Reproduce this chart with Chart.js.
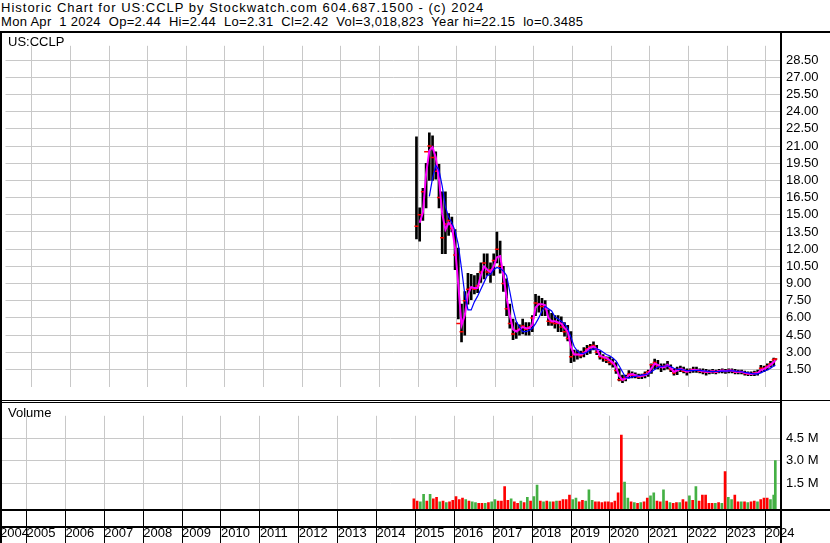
<!DOCTYPE html>
<html>
<head>
<meta charset="utf-8">
<script src="https://cdn.jsdelivr.net/npm/chart.js@4.4.1/dist/chart.umd.min.js"></script>
<style>
body { margin: 0; background: #fff; width: 830px; height: 543px; overflow: hidden; position: relative;
       font: 13px "Liberation Sans", Arial, sans-serif; color: #000; }
.t { position: absolute; white-space: pre; line-height: 14px; }
.ln { position: absolute; background: #000; }
canvas { position: absolute; left: 0; }
</style>
</head>
<body>
<div class="t" style="left:1px;top:1px;letter-spacing:1px">Historic Chart for US:CCLP by Stockwatch.com 604.687.1500 - (c) 2024</div>
<div class="t" style="left:1px;top:15px;letter-spacing:0.3px">Mon Apr  1 2024  Op=2.44  Hi=2.44  Lo=2.31  Cl=2.42  Vol=3,018,823  Year hi=22.15  lo=0.3485</div>

<canvas id="price" width="830" height="367" style="top:33px"></canvas>
<canvas id="vol" width="830" height="140" style="top:403px"></canvas>

<div class="t" style="left:8px;top:35px">US:CCLP</div>
<div class="t" style="left:8px;top:406px">Volume</div>

<div class="ln" style="left:0;top:31px;width:830px;height:2px"></div>
<div class="ln" style="left:0;top:31px;width:2px;height:512px"></div>
<div class="ln" style="left:780px;top:31px;width:2px;height:512px"></div>
<div class="ln" style="left:0;top:400px;width:830px;height:1px"></div>
<div class="ln" style="left:0;top:402px;width:781px;height:1px"></div>
<div class="ln" style="left:0;top:509px;width:830px;height:2px"></div>
<div class="ln" style="left:0;top:526px;width:781px;height:2px"></div>

<script>
// monthly bars (last one is the single day Apr 1 2024)
const months = [
  '2014-12',
  '2015-01','2015-02','2015-03','2015-04','2015-05','2015-06','2015-07','2015-08','2015-09','2015-10','2015-11','2015-12',
  '2016-01','2016-02','2016-03','2016-04','2016-05','2016-06','2016-07','2016-08','2016-09','2016-10','2016-11','2016-12',
  '2017-01','2017-02','2017-03','2017-04','2017-05','2017-06','2017-07','2017-08','2017-09','2017-10','2017-11','2017-12',
  '2018-01','2018-02','2018-03','2018-04','2018-05','2018-06','2018-07','2018-08','2018-09','2018-10','2018-11','2018-12',
  '2019-01','2019-02','2019-03','2019-04','2019-05','2019-06','2019-07','2019-08','2019-09','2019-10','2019-11','2019-12',
  '2020-01','2020-02','2020-03','2020-04','2020-05','2020-06','2020-07','2020-08','2020-09','2020-10','2020-11','2020-12',
  '2021-01','2021-02','2021-03','2021-04','2021-05','2021-06','2021-07','2021-08','2021-09','2021-10','2021-11','2021-12',
  '2022-01','2022-02','2022-03','2022-04','2022-05','2022-06','2022-07','2022-08','2022-09','2022-10','2022-11','2022-12',
  '2023-01','2023-02','2023-03','2023-04','2023-05','2023-06','2023-07','2023-08','2023-09','2023-10','2023-11','2023-12',
  '2024-01','2024-02','2024-03','2024-04-01'
];

const hi = [
  21.8,
  15.6,17.3,19.5,22.15,21.9,20.5,19.4,17.0,17.0,15.1,14.8,13.7,
  12.1,7.2,8.3,9.9,9.8,9.7,9.9,10.8,11.6,11.6,10.8,11.6,
  13.5,12.7,10.5,9.4,7.2,5.9,5.6,5.4,5.9,5.6,5.6,6.2,
  8.05,7.9,7.7,7.5,6.7,6.4,6.2,6.2,6.1,5.6,5.35,4.8,
  3.2,3.2,3.1,3.4,3.6,3.7,3.9,3.6,3.1,2.8,2.6,2.6,
  2.4,2.1,1.55,1.0,1.0,1.4,1.3,1.2,1.1,1.1,1.3,1.45,
  2.0,2.4,2.3,2.0,2.0,2.2,1.9,1.55,1.7,1.8,1.7,1.55,
  1.55,1.7,1.7,1.55,1.55,1.5,1.45,1.5,1.45,1.5,1.55,1.5,
  1.55,1.55,1.5,1.45,1.45,1.35,1.3,1.3,1.35,1.45,1.85,1.8,
  2.0,2.2,2.5,2.44
];
const lo = [
  12.9,
  12.7,14.5,15.6,18.0,18.0,18.1,15.6,11.6,11.6,13.2,13.5,10.2,
  5.9,3.9,4.5,7.2,7.6,8.1,8.2,9.1,9.4,9.7,9.1,9.7,
  10.8,9.9,8.3,6.2,5.1,4.1,4.2,4.5,4.6,4.5,4.5,4.8,
  6.2,6.5,6.2,6.2,5.35,5.35,5.1,4.8,4.8,4.4,4.0,2.1,
  2.2,2.4,2.5,2.6,2.8,2.9,3.2,2.8,2.4,2.2,2.1,1.9,
  1.7,1.15,0.5,0.35,0.5,0.75,0.75,0.75,0.7,0.7,0.75,0.9,
  1.15,1.55,1.55,1.3,1.45,1.55,1.3,1.0,1.05,1.3,1.2,1.0,
  1.2,1.25,1.25,1.2,1.1,1.0,1.1,1.15,1.1,1.2,1.2,1.15,
  1.2,1.2,1.1,1.1,1.1,1.0,0.95,0.95,0.95,1.0,1.25,1.3,
  1.45,1.7,1.8,2.31
];
const closes = [
  14.0,
  15.0,17.0,20.5,21.0,20.0,18.8,16.5,13.0,14.2,14.5,13.8,11.5,
  5.5,4.8,7.5,8.5,8.6,8.5,8.8,10.0,10.8,10.0,10.2,11.0,
  12.0,10.5,9.0,6.8,5.5,4.6,4.9,5.0,5.3,5.0,5.2,6.0,
  7.3,7.2,7.0,6.8,5.7,5.6,5.5,5.5,5.2,4.8,4.2,2.6,
  2.8,2.8,2.7,3.0,3.3,3.5,3.6,3.0,2.6,2.5,2.3,2.1,
  2.0,1.4,0.6,0.6,0.8,1.1,1.0,0.95,0.85,0.9,1.1,1.3,
  1.9,2.1,1.8,1.7,1.8,1.8,1.5,1.2,1.5,1.5,1.35,1.3,
  1.4,1.5,1.45,1.35,1.3,1.25,1.3,1.35,1.25,1.35,1.4,1.35,
  1.4,1.35,1.25,1.3,1.25,1.15,1.1,1.1,1.2,1.2,1.6,1.6,
  1.8,2.0,2.35,2.42
];
// short moving average (magenta)
const maShort = [
  null,
  14.3,15.2,18.6,20.6,20.9,20.0,18.1,15.1,13.7,14.3,14.0,12.1,
  8.9,5.35,6.2,8.05,8.7,8.6,8.6,9.7,10.5,10.2,10.0,10.5,
  11.3,11.4,9.7,7.8,6.2,5.0,4.8,5.0,5.2,5.1,5.1,5.4,
  6.9,7.2,7.2,7.1,6.0,5.7,5.7,5.6,5.5,5.1,4.8,3.45,
  2.8,2.8,2.8,2.9,3.2,3.4,3.5,3.3,2.7,2.6,2.5,2.3,
  2.1,1.7,0.9,0.6,0.7,1.0,1.1,1.0,0.9,0.95,1.0,1.15,
  1.6,2.0,1.9,1.7,1.7,1.9,1.6,1.3,1.4,1.55,1.45,1.3,
  1.4,1.45,1.45,1.4,1.35,1.3,1.3,1.35,1.3,1.35,1.4,1.35,
  1.4,1.4,1.3,1.3,1.3,1.2,1.15,1.1,1.15,1.2,1.45,1.55,
  1.7,1.9,2.15,2.3
];
// long moving average (blue)
const maLong = [
  null,
  null,null,null,16.6,18.2,19.3,18.9,17.5,15.7,14.8,14.3,13.6,
  12.4,10.3,8.1,6.7,6.7,7.4,7.9,8.5,9.1,9.7,9.8,10.2,
  10.4,10.3,10.1,9.7,8.3,6.8,5.7,5.2,4.8,4.8,4.9,5.1,
  5.5,6.0,6.6,7.0,6.8,6.6,6.1,5.9,5.7,5.5,5.1,4.3,
  3.5,3.1,2.9,2.9,3.0,3.2,3.3,3.3,3.2,3.0,2.8,2.7,
  2.5,2.25,1.8,1.3,0.8,0.75,0.85,0.9,0.95,1.0,1.05,1.1,
  1.3,1.5,1.7,1.75,1.8,1.8,1.75,1.6,1.5,1.5,1.45,1.4,
  1.4,1.4,1.42,1.42,1.38,1.35,1.32,1.32,1.32,1.33,1.35,1.35,
  1.37,1.38,1.35,1.32,1.3,1.25,1.2,1.15,1.12,1.12,1.2,1.35,
  1.45,1.6,1.8,1.85
];
// volume in millions, direction 1 = up (green), -1 = down (red)
const volume = [
  0.5,
  0.35,0.3,0.8,0.35,0.8,0.5,0.6,0.3,0.35,0.25,0.3,0.4,
  0.65,0.45,0.55,0.45,0.35,0.3,0.25,0.2,0.2,0.2,0.25,0.3,
  0.45,0.35,0.35,1.3,0.4,0.5,0.3,0.2,0.35,0.25,0.6,0.35,
  0.65,1.4,0.35,0.3,0.35,0.3,0.3,0.35,0.35,0.45,0.45,0.75,
  0.45,0.55,0.3,0.4,0.35,1.1,0.4,0.3,0.3,0.25,0.3,0.3,
  0.25,0.35,0.9,4.7,1.6,0.55,0.3,0.25,0.2,0.25,0.3,0.55,
  0.7,0.9,0.35,0.3,1.1,0.35,0.25,0.2,0.25,0.25,0.45,0.3,
  0.7,0.4,1.3,0.35,0.75,0.75,0.2,0.2,0.2,0.25,0.2,2.3,
  0.6,0.45,0.75,0.3,0.3,0.3,0.25,0.3,0.35,0.3,0.45,0.55,
  0.55,0.45,0.75,3.02
];
const volDir = [
  -1,
  -1,1,1,-1,1,-1,-1,1,-1,1,-1,-1,
  -1,-1,-1,1,-1,1,1,-1,-1,1,-1,1,
  1,-1,-1,-1,-1,1,-1,-1,1,-1,1,-1,
  1,1,-1,1,-1,1,-1,1,-1,-1,-1,-1,
  1,1,-1,-1,1,1,1,-1,-1,-1,-1,-1,
  -1,-1,-1,-1,1,1,-1,1,-1,1,-1,-1,
  1,1,-1,-1,1,-1,1,-1,-1,1,-1,-1,
  1,-1,1,-1,-1,-1,-1,-1,1,-1,1,-1,
  1,1,-1,-1,1,-1,1,-1,-1,1,-1,-1,
  -1,1,1,1
];

const priceTicks = [1.5,3,4.5,6,7.5,9,10.5,12,13.5,15,16.5,18,19.5,21,22.5,24,25.5,27,28.5];
const volTicks = [1.5,3,4.5];
const yearLabels = ['2004','2005','2006','2007','2008','2009','2010','2011','2012','2013','2014',
                    '2015','2016','2017','2018','2019','2020','2021','2022','2023','2024'];

const X_MIN = 2004.319, X_MAX = 2024.396;
const GRID = '#c8c8c8';

function toYear(s) {
  const p = s.split('-').map(Number);
  if (p.length === 3) return p[0] + (p[1] - 1) / 12 + (p[2] - 1) / 365;
  return p[0] + (p[1] - 0.5) / 12;
}
const tx = months.map(toYear);
const pts = arr => arr.map((v, i) => ({x: tx[i], y: v}));

Chart.defaults.font.family = '"Liberation Sans", Arial, sans-serif';
Chart.defaults.font.size = 13;
Chart.defaults.color = '#000';

const base = {
  responsive: false,
  animation: false,
  events: [],
  layout: {padding: 0},
  plugins: {legend: {display: false}, tooltip: {enabled: false}}
};

new Chart(document.getElementById('price'), {
  type: 'bar',
  data: {
    datasets: [
      {type: 'line', data: pts(maLong), borderColor: '#0000ff', borderWidth: 1.2, pointRadius: 0, order: 1},
      {type: 'line', data: pts(maShort), borderColor: '#ff00ff', borderWidth: 2, pointRadius: 0, order: 2},
      {type: 'line', data: pts(closes), showLine: false, pointStyle: 'line', pointRadius: 2,
       borderColor: '#ff0000', pointBorderWidth: 1.5, order: 3},
      {type: 'bar', data: months.map((m, i) => ({x: tx[i], y: [lo[i], hi[i]]})),
       backgroundColor: '#000', barThickness: 2, order: 4}
    ]
  },
  options: {
    ...base,
    scales: {
      x: {
        type: 'linear', min: X_MIN, max: X_MAX, offset: false,
        grid: {color: GRID, drawTicks: false, offset: false},
        border: {display: false},
        ticks: {display: false},
        afterBuildTicks: s => { s.ticks = yearLabels.slice(1).map(y => ({value: +y})); }
      },
      y: {
        position: 'right', min: -0.05, max: 29.75,
        grid: {color: GRID, drawTicks: false},
        border: {display: false},
        ticks: {padding: 5, callback: v => v.toFixed(2)},
        afterBuildTicks: s => { s.ticks = priceTicks.map(v => ({value: v})); },
        afterFit: s => { s.width = 49; }
      }
    }
  }
});

const VOL_MIN = -0.17;
new Chart(document.getElementById('vol'), {
  type: 'bar',
  data: {
    datasets: [{
      data: pts(volume),
      backgroundColor: volDir.map(d => d > 0 ? '#44b044' : '#ff0000'),
      barThickness: 2,
      base: VOL_MIN
    }]
  },
  options: {
    ...base,
    scales: {
      x: {
        type: 'linear', min: X_MIN, max: X_MAX, offset: false,
        grid: {color: GRID, tickColor: '#000', tickLength: 34, tickWidth: 1, offset: false},
        border: {display: false},
        ticks: {align: 'start', padding: -17, autoSkip: false, maxRotation: 0, minRotation: 0,
                callback: (v, i) => yearLabels[i]},
        afterBuildTicks: s => { s.ticks = yearLabels.map(y => ({value: Math.max(+y, X_MIN)})); },
        afterFit: s => { s.height = 34; }
      },
      y: {
        position: 'right', min: VOL_MIN, max: 5.97,
        grid: {color: GRID, drawTicks: false},
        border: {display: false},
        ticks: {padding: 5, callback: v => v.toFixed(1) + ' M'},
        afterBuildTicks: s => { s.ticks = volTicks.map(v => ({value: v})); },
        afterFit: s => { s.width = 49; }
      }
    }
  }
});
</script>
</body>
</html>
